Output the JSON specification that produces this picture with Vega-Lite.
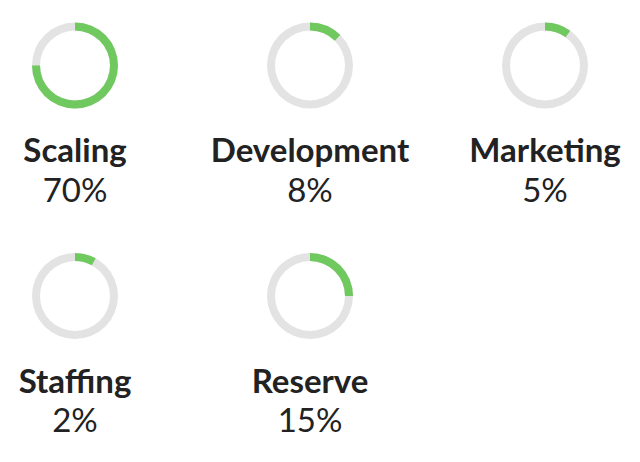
{
  "$schema": "https://vega.github.io/schema/vega-lite/v6.json",
  "padding": {"left": 0, "top": 15.5, "right": 0, "bottom": 0},
  "background": "white",
  "bounds": "flush",
  "config": {
    "view": {"stroke": null},
    "text": {"font": "Lato", "color": "#222222"},
    "arc": {"innerRadius": 35, "outerRadius": 43}
  },
  "data": {
    "values": [
      {"name": "Scaling", "pct": 0.70, "arc": 75},
      {"name": "Development", "pct": 0.08, "arc": 12.5},
      {"name": "Marketing", "pct": 0.05, "arc": 10},
      {"name": "Staffing", "pct": 0.02, "arc": 8},
      {"name": "Reserve", "pct": 0.15, "arc": 25}
    ]
  },
  "columns": 3,
  "spacing": {"row": 130.5, "column": 85},
  "concat": [
    {
      "width": 150, "height": 100,
      "transform": [{"filter": "datum.name === 'Scaling'"}],
      "layer": [
        {"mark": {"type": "arc", "theta": 0, "theta2": 6.2832, "color": "#e3e3e3"}, "encoding": {}},
        {"mark": {"type": "arc", "color": "#70c95e"}, "encoding": {"theta": {"field": "arc", "type": "quantitative", "scale": {"domain": [0, 100]}}, "theta2": {"datum": 0}}},
        {"mark": {"type": "text", "fontWeight": "bold", "fontSize": 33, "baseline": "alphabetic", "dy": 96.5}, "encoding": {"text": {"field": "name", "type": "nominal"}}},
        {"mark": {"type": "text", "fontSize": 33, "baseline": "alphabetic", "dy": 136}, "encoding": {"text": {"field": "pct", "type": "quantitative", "format": ".0%"}}}
      ]
    },
    {
      "width": 150, "height": 100,
      "transform": [{"filter": "datum.name === 'Development'"}],
      "layer": [
        {"mark": {"type": "arc", "theta": 0, "theta2": 6.2832, "color": "#e3e3e3"}, "encoding": {}},
        {"mark": {"type": "arc", "color": "#70c95e"}, "encoding": {"theta": {"field": "arc", "type": "quantitative", "scale": {"domain": [0, 100]}}, "theta2": {"datum": 0}}},
        {"mark": {"type": "text", "fontWeight": "bold", "fontSize": 33, "baseline": "alphabetic", "dy": 96.5}, "encoding": {"text": {"field": "name", "type": "nominal"}}},
        {"mark": {"type": "text", "fontSize": 33, "baseline": "alphabetic", "dy": 136}, "encoding": {"text": {"field": "pct", "type": "quantitative", "format": ".0%"}}}
      ]
    },
    {
      "width": 150, "height": 100,
      "transform": [{"filter": "datum.name === 'Marketing'"}],
      "layer": [
        {"mark": {"type": "arc", "theta": 0, "theta2": 6.2832, "color": "#e3e3e3"}, "encoding": {}},
        {"mark": {"type": "arc", "color": "#70c95e"}, "encoding": {"theta": {"field": "arc", "type": "quantitative", "scale": {"domain": [0, 100]}}, "theta2": {"datum": 0}}},
        {"mark": {"type": "text", "fontWeight": "bold", "fontSize": 33, "baseline": "alphabetic", "dy": 96.5}, "encoding": {"text": {"field": "name", "type": "nominal"}}},
        {"mark": {"type": "text", "fontSize": 33, "baseline": "alphabetic", "dy": 136}, "encoding": {"text": {"field": "pct", "type": "quantitative", "format": ".0%"}}}
      ]
    },
    {
      "width": 150, "height": 100,
      "transform": [{"filter": "datum.name === 'Staffing'"}],
      "layer": [
        {"mark": {"type": "arc", "theta": 0, "theta2": 6.2832, "color": "#e3e3e3"}, "encoding": {}},
        {"mark": {"type": "arc", "color": "#70c95e"}, "encoding": {"theta": {"field": "arc", "type": "quantitative", "scale": {"domain": [0, 100]}}, "theta2": {"datum": 0}}},
        {"mark": {"type": "text", "fontWeight": "bold", "fontSize": 33, "baseline": "alphabetic", "dy": 96.5}, "encoding": {"text": {"field": "name", "type": "nominal"}}},
        {"mark": {"type": "text", "fontSize": 33, "baseline": "alphabetic", "dy": 136}, "encoding": {"text": {"field": "pct", "type": "quantitative", "format": ".0%"}}}
      ]
    },
    {
      "width": 150, "height": 100,
      "transform": [{"filter": "datum.name === 'Reserve'"}],
      "layer": [
        {"mark": {"type": "arc", "theta": 0, "theta2": 6.2832, "color": "#e3e3e3"}, "encoding": {}},
        {"mark": {"type": "arc", "color": "#70c95e"}, "encoding": {"theta": {"field": "arc", "type": "quantitative", "scale": {"domain": [0, 100]}}, "theta2": {"datum": 0}}},
        {"mark": {"type": "text", "fontWeight": "bold", "fontSize": 33, "baseline": "alphabetic", "dy": 96.5}, "encoding": {"text": {"field": "name", "type": "nominal"}}},
        {"mark": {"type": "text", "fontSize": 33, "baseline": "alphabetic", "dy": 136}, "encoding": {"text": {"field": "pct", "type": "quantitative", "format": ".0%"}}}
      ]
    }
  ]
}
